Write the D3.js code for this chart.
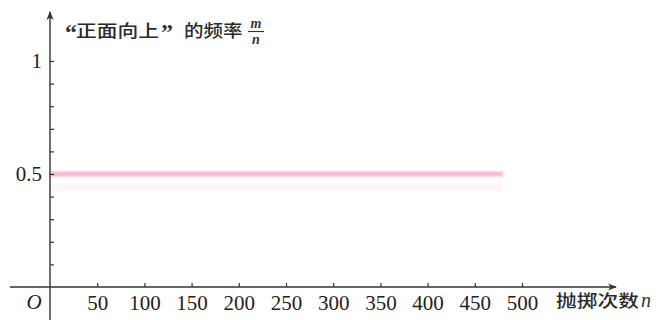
<!DOCTYPE html>
<html>
<head>
<meta charset="utf-8">
<script src="https://cdn.jsdelivr.net/npm/d3@7"></script>
<style>
  body { margin: 0; background: #fff; }
  svg { display: block; }
</style>
</head>
<body>
<div id="chart"></div>
<script>
// data
var xTicks = [50, 100, 150, 200, 250, 300, 350, 400, 450, 500];
var yTicks = [0.1, 0.2, 0.3, 0.4, 0.5, 0.6, 0.7, 0.8, 0.9, 1];
var yLabels = [0.5, 1];
var freqLine = [[0, 0.5], [480, 0.5]];
var titleMain = "正面向上";
var titleRest = "的频率";
var xTitleText = "抛掷次数";

var width = 659, height = 320;
var axisColor = "#333";

var svg = d3.select("#chart").append("svg")
  .attr("width", width)
  .attr("height", height);

var x = d3.scaleLinear().domain([0, 500]).range([50, 522]);
var y = d3.scaleLinear().domain([0, 1]).range([287, 61]);

var defs = svg.append("defs");
defs.append("filter").attr("id", "soft")
  .attr("filterUnits", "userSpaceOnUse")
  .attr("x", 0).attr("y", 0).attr("width", width).attr("height", height)
  .append("feGaussianBlur").attr("stdDeviation", 1.3);
defs.append("marker").attr("id", "arrow")
  .attr("viewBox", "0 0 10 10")
  .attr("refX", 9).attr("refY", 5)
  .attr("markerWidth", 9).attr("markerHeight", 9)
  .attr("markerUnits", "userSpaceOnUse")
  .attr("orient", "auto")
  .append("path")
  .attr("d", "M0,1 L10,5 L0,9 L3,5 Z")
  .attr("fill", axisColor);

// frequency line (pink band)
var line = d3.line().x(d => x(d[0])).y(d => y(d[1]));
svg.append("path")
  .datum(freqLine.map(d => [d[0], d[1] - 0.058]))
  .attr("d", line)
  .attr("stroke", "#fef5f8")
  .attr("stroke-width", 8)
  .attr("fill", "none")
  .attr("filter", "url(#soft)");
svg.append("path")
  .datum(freqLine)
  .attr("d", line)
  .attr("stroke", "#f4b6d2")
  .attr("stroke-width", 5)
  .attr("fill", "none")
  .attr("filter", "url(#soft)");

// x axis
var xAxis = svg.append("g")
  .attr("transform", "translate(0," + y(0) + ")")
  .call(d3.axisBottom(x).tickValues(xTicks).tickSize(-4).tickPadding(8));
xAxis.select(".domain").remove();
xAxis.selectAll("line").attr("stroke", axisColor).attr("stroke-width", 1.2);
xAxis.selectAll("text")
  .attr("fill", "#222")
  .attr("font-family", "'Liberation Serif', 'Times New Roman', serif")
  .attr("font-size", "21px");

// y axis
var yAxis = svg.append("g")
  .attr("transform", "translate(" + x(0) + ",0)")
  .call(d3.axisLeft(y).tickValues(yTicks).tickSize(-4).tickPadding(8)
    .tickFormat(d => yLabels.indexOf(d) >= 0 ? String(d) : ""));
yAxis.select(".domain").remove();
yAxis.selectAll("line").attr("stroke", axisColor).attr("stroke-width", 1.2);
yAxis.selectAll("text")
  .attr("fill", "#222")
  .attr("font-family", "'Liberation Serif', 'Times New Roman', serif")
  .attr("font-size", "21px");

// axis lines with arrows
svg.append("line")
  .attr("x1", 10).attr("y1", y(0))
  .attr("x2", 616).attr("y2", y(0))
  .attr("stroke", axisColor).attr("stroke-width", 1.4)
  .attr("marker-end", "url(#arrow)");
svg.append("line")
  .attr("x1", x(0)).attr("y1", 320)
  .attr("x2", x(0)).attr("y2", 12)
  .attr("stroke", axisColor).attr("stroke-width", 1.4)
  .attr("marker-end", "url(#arrow)");

// origin
svg.append("text")
  .attr("x", 34).attr("y", 309)
  .attr("text-anchor", "middle")
  .attr("font-family", "'Liberation Serif', 'Times New Roman', serif")
  .attr("font-style", "italic")
  .attr("font-size", "21px")
  .attr("fill", "#222")
  .text("O");

// y title
var cjk = "'Noto Sans CJK SC', 'Noto Sans', sans-serif";
var serif = "'Liberation Serif', 'Times New Roman', serif";
svg.append("text")
  .attr("x", 65).attr("y", 40)
  .attr("font-family", serif).attr("font-weight", "bold")
  .attr("font-size", "24px").attr("fill", "#333")
  .text("\u201c");
svg.append("text")
  .attr("transform", "translate(76,37) scale(1.22,1)")
  .attr("font-family", cjk).attr("font-weight", 500)
  .attr("font-size", "17px").attr("fill", "#2a2a2a")
  .text(titleMain);
svg.append("text")
  .attr("x", 161).attr("y", 40)
  .attr("font-family", serif).attr("font-weight", "bold")
  .attr("font-size", "24px").attr("fill", "#333")
  .text("\u201d");
svg.append("text")
  .attr("transform", "translate(184,37) scale(1.15,1)")
  .attr("font-family", cjk).attr("font-weight", 500)
  .attr("font-size", "17px").attr("fill", "#2a2a2a")
  .text(titleRest);
var frac = svg.append("g").attr("transform", "translate(256,0)");
frac.append("text")
  .attr("y", 28).attr("text-anchor", "middle")
  .attr("font-family", serif)
  .attr("font-style", "italic").attr("font-weight", "bold")
  .attr("font-size", "14px").attr("fill", "#333")
  .text("m");
frac.append("line")
  .attr("x1", -8).attr("x2", 8).attr("y1", 31.5).attr("y2", 31.5)
  .attr("stroke", "#333").attr("stroke-width", 1.2);
frac.append("text")
  .attr("y", 44).attr("text-anchor", "middle")
  .attr("font-family", serif)
  .attr("font-style", "italic").attr("font-weight", "bold")
  .attr("font-size", "14px").attr("fill", "#333")
  .text("n");

// x title
svg.append("text")
  .attr("transform", "translate(556,307) scale(1.22,1)")
  .attr("font-family", cjk).attr("font-weight", 500)
  .attr("font-size", "17px").attr("fill", "#2a2a2a")
  .text(xTitleText);
svg.append("text")
  .attr("x", 641).attr("y", 307)
  .attr("font-family", serif)
  .attr("font-style", "italic")
  .attr("font-size", "20px")
  .attr("fill", "#333")
  .text("n");
</script>
</body>
</html>
